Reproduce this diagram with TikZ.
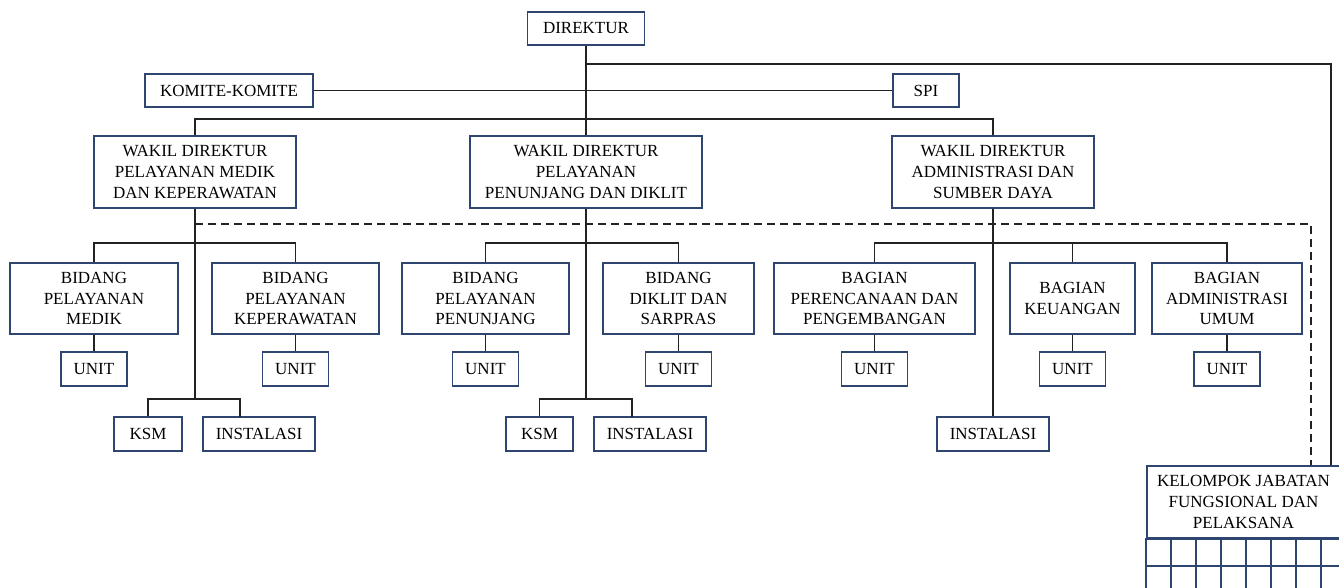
\documentclass[tikz,border=0pt]{standalone}
\usepackage{fontspec}
\setmainfont{Liberation Serif}
\usetikzlibrary{positioning}
\definecolor{boxline}{HTML}{2E4570}
\definecolor{linkline}{HTML}{222222}

\begin{document}
\begin{tikzpicture}[
                x=1pt, y=-1pt,
                font=\fontsize{17}{20.8}\selectfont,
                box/.style={draw=boxline, line width=1.8pt, align=center, inner sep=2pt, fill=white},
                sz/.style 2 args={minimum width=#1pt, minimum height=#2pt},
                link/.style={draw=linkline, line width=1.7pt},
                dashlink/.style={link, dash pattern=on 8pt off 5pt},
                cell/.style={draw=boxline, line width=1.8pt}
              ]
              \useasboundingbox (0,0) rectangle (1339,587);
              \clip (0,0) rectangle (1339,587);

              % Pimpinan
              \node[box, sz={117}{33}] (dir) at (586,28.5) {DIREKTUR};
              \node[box, sz={168}{33}] (komite) at (229,90.5) {KOMITE-KOMITE};
              \node[box, sz={66}{33}] (spi) at (926,90.5) {SPI};
              \node[box, sz={202}{72}] (wk1) at (195,172) {WAKIL DIREKTUR\\PELAYANAN MEDIK\\DAN KEPERAWATAN};
              \node[box, sz={232}{72}] (wk2) at (586,172) {WAKIL DIREKTUR\\PELAYANAN\\PENUNJANG DAN DIKLIT};
              \node[box, sz={202}{72}] (wk3) at (993,172) {WAKIL DIREKTUR\\ADMINISTRASI DAN\\SUMBER DAYA};

              % Bidang dan bagian
              \node[box, sz={168}{71}] (bpm) at (94,298.5) {BIDANG\\PELAYANAN\\MEDIK};
              \node[box, sz={167}{71}] (bpk) at (295.5,298.5) {BIDANG\\PELAYANAN\\KEPERAWATAN};
              \node[box, sz={167}{71}] (bpp) at (485.5,298.5) {BIDANG\\PELAYANAN\\PENUNJANG};
              \node[box, sz={151}{71}] (bds) at (678.5,298.5) {BIDANG\\DIKLIT DAN\\SARPRAS};
              \node[box, sz={201}{71}] (bpr) at (874.5,298.5) {BAGIAN\\PERENCANAAN DAN\\PENGEMBANGAN};
              \node[box, sz={125}{71}] (bku) at (1072.5,298.5) {BAGIAN\\KEUANGAN};
              \node[box, sz={150}{71}] (bau) at (1227,298.5) {BAGIAN\\ADMINISTRASI\\UMUM};

              % Unit
              \node[box, sz={66}{34}] (upm) at (94,369) {UNIT};
              \node[box, sz={66}{34}] (upk) at (295.5,369) {UNIT};
              \node[box, sz={66}{34}] (upp) at (485.5,369) {UNIT};
              \node[box, sz={66}{34}] (uds) at (678.5,369) {UNIT};
              \node[box, sz={66}{34}] (upr) at (874.5,369) {UNIT};
              \node[box, sz={66}{34}] (uku) at (1072.5,369) {UNIT};
              \node[box, sz={66}{34}] (uau) at (1227,369) {UNIT};

              % KSM dan instalasi
              \node[box, sz={68}{34}] (ksm1) at (148,434) {KSM};
              \node[box, sz={112}{34}] (ins1) at (259,434) {INSTALASI};
              \node[box, sz={67}{34}] (ksm2) at (539.5,434) {KSM};
              \node[box, sz={112}{34}] (ins2) at (650,434) {INSTALASI};
              \node[box, sz={112}{34}] (ins3) at (993,434) {INSTALASI};

              % Jabatan fungsional
              \node[box, sz={193}{72}] (kjf) at (1243.5,502) {KELOMPOK JABATAN\\FUNGSIONAL DAN\\PELAKSANA};
              \foreach \i in {0,...,7}
                \foreach \j in {0,1}
                  \draw[cell, shift={(kjf.south west)}] (25*\i,27*\j) rectangle ++(25,27);

              % Garis pimpinan
              \coordinate (barwk) at (586,119);
              \coordinate (jf) at (1331,64);
              \coordinate (dl) at (1311,224);
              \draw[link] (dir.south) -- (wk2.north);
              \draw[link] (komite.east) -- (spi.west);
              \draw[link] (wk1.north) |- (barwk) -| (wk3.north);
              \draw[link] (dir.south |- jf) -- (jf) -- (jf |- kjf.north);
              \draw[dashlink] (wk1.south |- dl) -- (dl) -- (dl |- kjf.north);

              % Garis wakil direktur 1
              \coordinate (bb1) at (195,243);
              \coordinate (bar1) at (195,399);
              \coordinate (i1) at (240,417);
              \draw[link] (wk1.south) -- (bar1);
              \draw[link] (bpm.north) |- (bb1) -| (bpk.north);
              \draw[link] (bpm.south) -- (upm.north);
              \draw[link] (bpk.south) -- (upk.north);
              \draw[link] (ksm1.north) |- (bar1) -| (i1);

              % Garis wakil direktur 2
              \coordinate (bb2) at (586,243);
              \coordinate (bar2) at (586,399);
              \coordinate (i2) at (632,417);
              \draw[link] (wk2.south) -- (bar2);
              \draw[link] (bpp.north) |- (bb2) -| (bds.north);
              \draw[link] (bpp.south) -- (upp.north);
              \draw[link] (bds.south) -- (uds.north);
              \draw[link] (ksm2.north) |- (bar2) -| (i2);

              % Garis wakil direktur 3
              \coordinate (bb3) at (993,243);
              \draw[link] (wk3.south) -- (ins3.north);
              \draw[link] (bpr.north) |- (bb3) -| (bau.north);
              \draw[link] (bku.north) -- (bku.north |- bb3);
              \draw[link] (bpr.south) -- (upr.north);
              \draw[link] (bku.south) -- (uku.north);
              \draw[link] (bau.south) -- (uau.north);
              \end{tikzpicture}
\end{document}
